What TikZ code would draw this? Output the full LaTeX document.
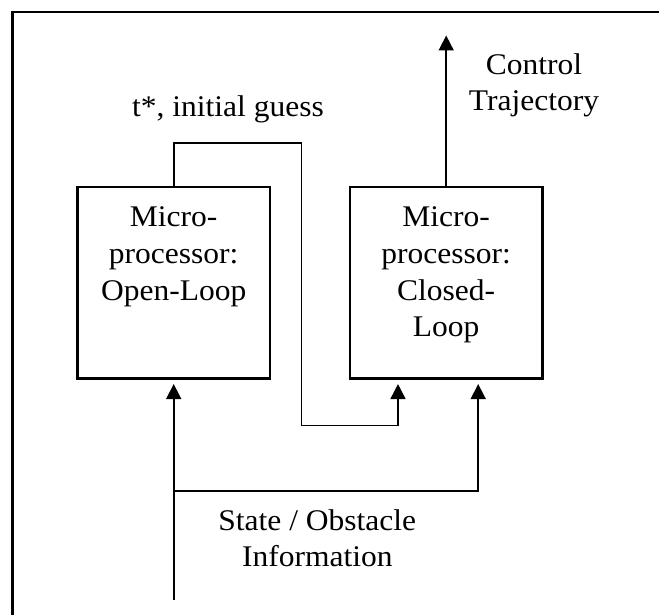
\documentclass[tikz,border=0pt]{standalone}
\usepackage{fontspec}
\setmainfont{Liberation Serif}[FakeStretch=1.05]
\usetikzlibrary{arrows.meta}
\begin{document}
\begin{tikzpicture}[x=1pt,y=-1pt,
  procbox/.style={draw,line width=2.2pt,minimum width=192.5pt,minimum height=191.5pt,inner sep=0pt},
  conn/.style={line width=1.7pt},
  arr/.style={conn,-{Triangle[width=15pt,length=15pt]}},
  lbl/.style={inner sep=0pt,anchor=base,font=\fontsize{30}{36.7}\selectfont}]
\useasboundingbox (0,0) rectangle (659,615);
\clip (0,0) rectangle (659,615);
\draw[line width=2.2pt] (12.5,12) rectangle (690,650);
% boxes
\node[procbox] (ol) at (173.7,282.7) {};
\node[procbox] (cl) at (446.2,282.7) {};
\node[lbl] (olt) at (173.7,226.7) {\begin{tabular}[t]{@{}c@{}}Micro-\\processor:\\Open-Loop\end{tabular}};
\node[lbl] (clt) at (446.2,226.7) {\begin{tabular}[t]{@{}c@{}}Micro-\\processor:\\Closed-\\Loop\end{tabular}};
% coordinates
\coordinate (r1) at (301.5,143);
\coordinate (r2) at (398,425.5);
\coordinate (out) at (446.2,35.5);
\coordinate (in) at (173.7,600);
\coordinate (sp) at (173.7,491);
\coordinate (cr) at (478.2,491);
% connectors
\draw[arr,shorten >=4.5pt] (ol.north) |- (r1) |- (r2) -- (r2 |- cl.south);
\draw[arr] (cl.north) -- (out);
\draw[arr,shorten >=4.5pt] (in) -- (ol.south);
\draw[arr,shorten >=4.5pt] (sp) -- (cr) -- (cr |- cl.south);
% labels
\node[lbl] (guess) at (228,117) {t*, initial guess};
\node[lbl] (traj) at (534,74.3) {\begin{tabular}[t]{@{}c@{}}Control\\Trajectory\end{tabular}};
\node[lbl] (state) at (317.3,530) {\begin{tabular}[t]{@{}c@{}}State / Obstacle\\Information\end{tabular}};
\end{tikzpicture}
\end{document}
